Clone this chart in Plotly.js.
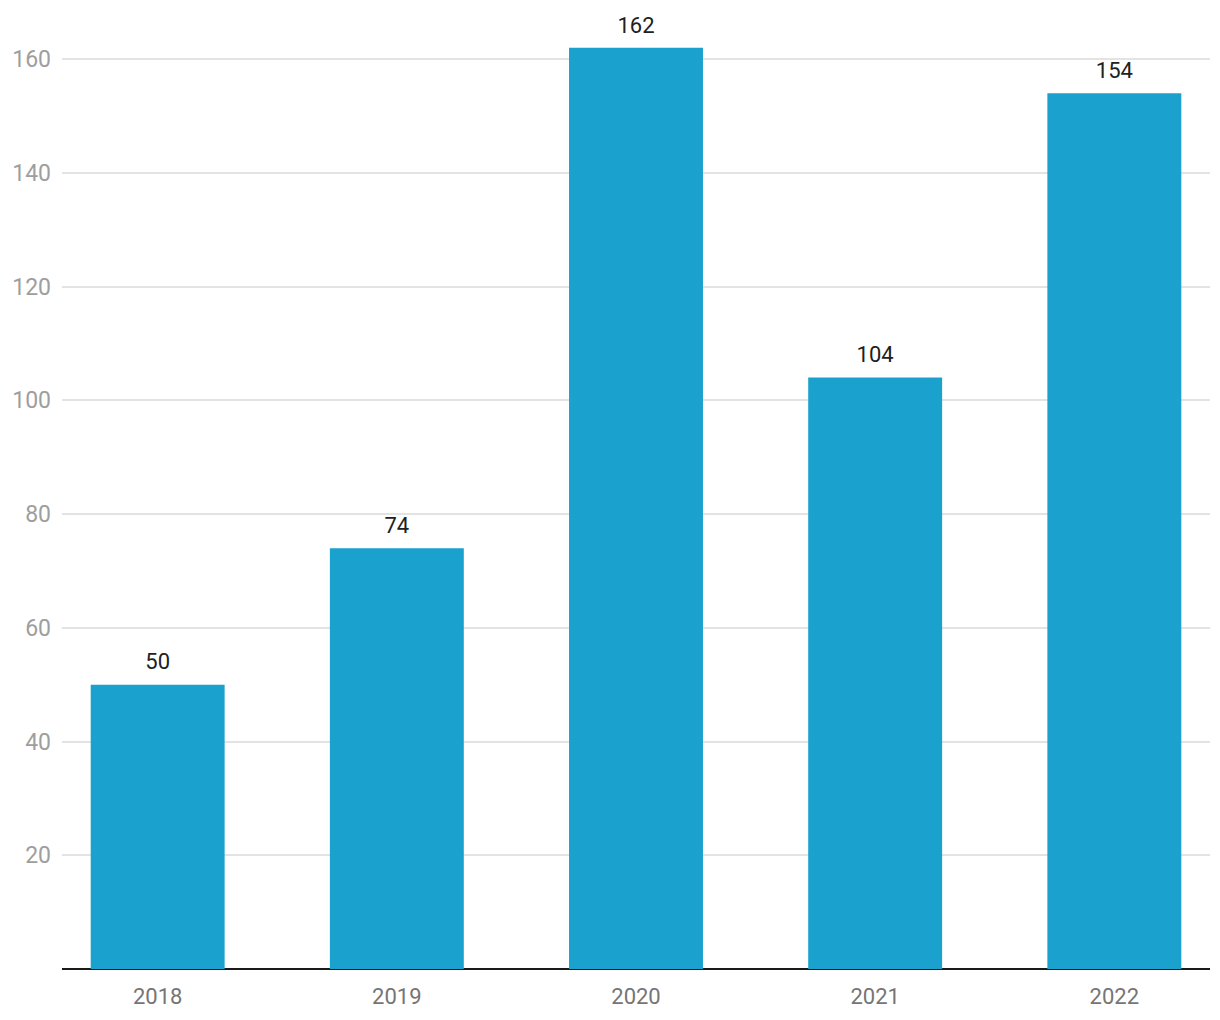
<!DOCTYPE html>
<html>
<head>
<meta charset="utf-8">
<script src="https://cdn.plot.ly/plotly-3.0.1.min.js"></script>
<style>html,body{margin:0;padding:0;background:#fff;}#chart{width:1220px;height:1020px;}</style>
</head>
<body>
<div id="chart"></div>
<script>
const years = ["2018", "2019", "2020", "2021", "2022"];
const values = [50, 74, 162, 104, 154];
const yTicks = [20, 40, 60, 80, 100, 120, 140, 160];

const bars = {
  type: "bar",
  x: years,
  y: values,
  width: 0.56,
  marker: {color: "#1aa1ce"},
  hoverinfo: "none"
};

const labels = {
  type: "scatter",
  mode: "markers+text",
  x: years,
  y: values,
  text: values.map(String),
  textposition: "top center",
  textfont: {family: "Roboto", size: 22, color: "#212121"},
  marker: {size: 14, opacity: 0, color: "#ffffff"},
  cliponaxis: false,
  hoverinfo: "none"
};

const layout = {
  width: 1220,
  height: 1020,
  margin: {l: 62, r: 10, t: 0, b: 51},
  paper_bgcolor: "#ffffff",
  plot_bgcolor: "#ffffff",
  showlegend: false,
  font: {family: "Roboto"},
  xaxis: {
    type: "category",
    range: [-0.4, 4.4],
    showgrid: false,
    showline: false,
    zeroline: false,
    ticks: "",
    tickfont: {family: "Roboto", size: 22, color: "#757575"},
    ticklabelstandoff: 12
  },
  yaxis: {
    range: [0, 170.4],
    tickvals: yTicks,
    ticktext: yTicks.map(String),
    showgrid: true,
    gridcolor: "#e3e3e3",
    gridwidth: 2,
    zeroline: true,
    zerolinecolor: "#1a1a1a",
    zerolinewidth: 2,
    showline: false,
    ticks: "",
    tickfont: {family: "Roboto", size: 23, color: "#9e9e9e"},
    ticklabelstandoff: 10
  }
};

Plotly.newPlot("chart", [bars, labels], layout, {displayModeBar: false, staticPlot: true});
</script>
</body>
</html>
